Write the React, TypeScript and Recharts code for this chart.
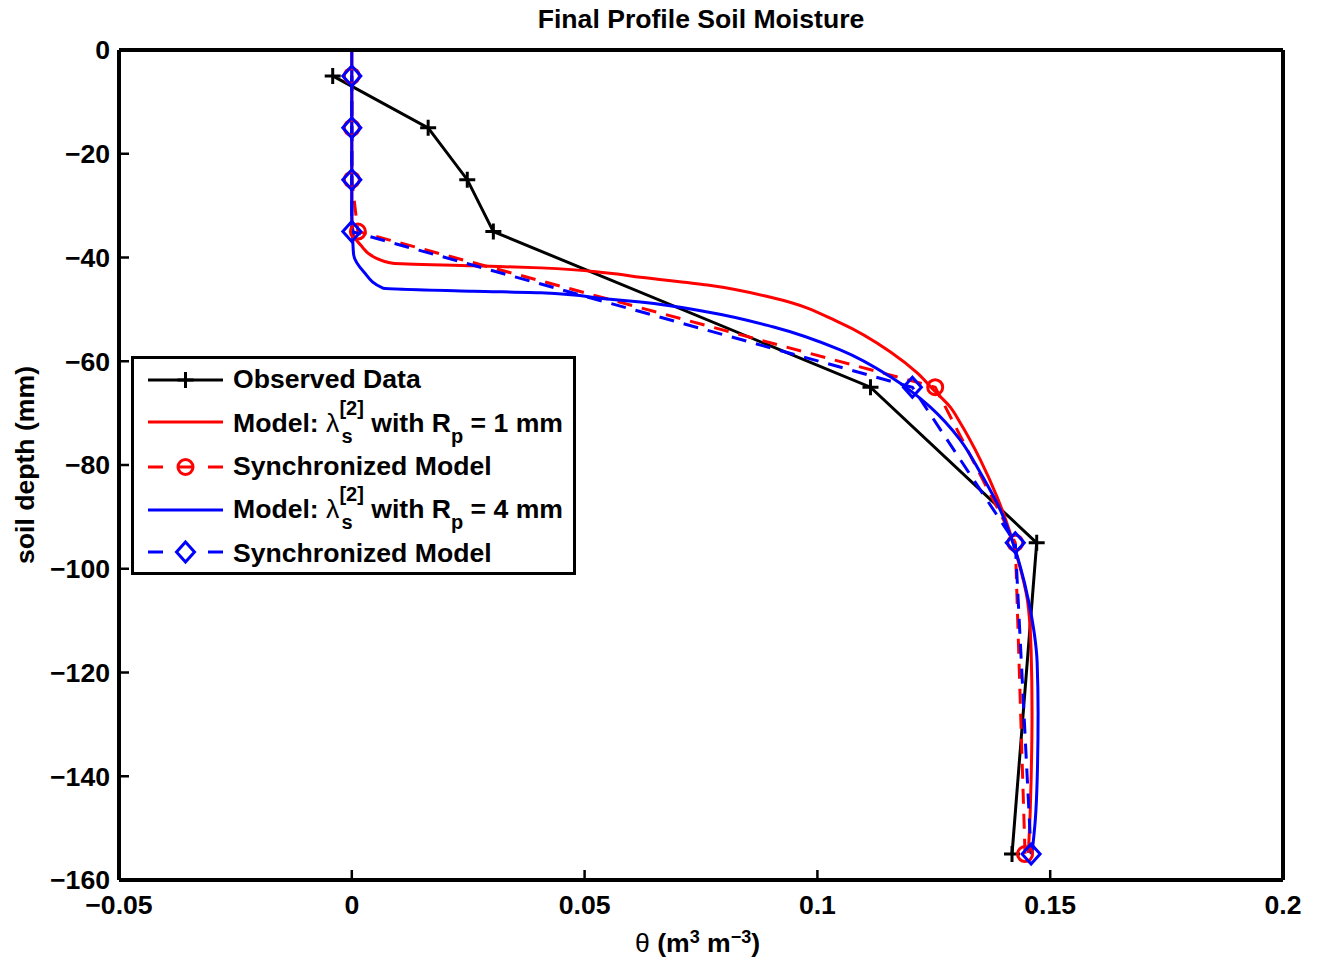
import React from "react";
import { ComposedChart, Line, XAxis, YAxis } from "recharts";

const FONT = '"Liberation Sans", Arial, Helvetica, sans-serif';
const FS = 26.6;

const xTicks = [-0.05, 0, 0.05, 0.1, 0.15, 0.2];
const yTicks = [-160, -140, -120, -100, -80, -60, -40, -20, 0];

// observed profile and the two synchronized runs share the sample depths
const obsDepth = [-5, -15, -25, -35, -65, -95, -155];
const obsTheta = [-0.0041, 0.0164, 0.0248, 0.0304, 0.1114, 0.1471, 0.1418];
const sync1Theta = [0, 0, 0, 0.0013, 0.1253, 0.1425, 0.1446];
const sync4Theta = [0, 0, 0, 0, 0.1204, 0.1425, 0.1459];

// model, R_p = 1 mm
const model1Depth = [
  0, -31.8, -35.7, -37.6, -40.1, -41.1, -41.6, -42.0, -43.0, -43.8, -45.3, -47.8,
  -52.6, -58.2, -62.3, -65.5, -68.8, -71.9, -79.0, -86.2, -93.1, -97.7, -106.0,
  -115.7, -127.8, -140.7, -147.1, -154.8,
];
const model1Theta = [
  0, 0, 0.0004, 0.0019, 0.0052, 0.0088, 0.0262, 0.0406, 0.0549, 0.062, 0.0764,
  0.0906, 0.1049, 0.1157, 0.1215, 0.1249, 0.1285, 0.1307, 0.135, 0.1386, 0.1414,
  0.1429, 0.1451, 0.1459, 0.1461, 0.1459, 0.1457, 0.1453,
];

// model, R_p = 4 mm
const model4Depth = [
  0, -32.8, -36.6, -39.5, -42.8, -45.9, -46.5, -46.8, -48.0, -48.6, -50.5, -53.4,
  -57.8, -63.0, -66.1, -68.8, -75.2, -81.5, -88.7, -94.5, -99.7, -106.0, -118.2,
  -127.8, -140.7, -148.4, -154.8,
];
const model4Theta = [
  0, 0, 0.0002, 0.0004, 0.0026, 0.0067, 0.0262, 0.0406, 0.0549, 0.062, 0.0764,
  0.0906, 0.1049, 0.1157, 0.1206, 0.1242, 0.1307, 0.135, 0.1393, 0.1418, 0.1436,
  0.1453, 0.1472, 0.1474, 0.1472, 0.1468, 0.1461,
];

const toPts = (theta: number[], depth: number[]) =>
  theta.map((x, i) => ({ x, y: depth[i] }));

const obs = toPts(obsTheta, obsDepth);
const sync1 = toPts(sync1Theta, obsDepth);
const sync4 = toPts(sync4Theta, obsDepth);
const model1 = toPts(model1Theta, model1Depth);
const model4 = toPts(model4Theta, model4Depth);

const RED = "#ff0000";
const BLUE = "#0000ff";

const minus = (v: number) => String(v).replace("-", "\u2212");

const plusDot = (p: any) => (
  <path
    key={`plus-${p.index}`}
    d={`M${p.cx - 8},${p.cy}H${p.cx + 8}M${p.cx},${p.cy - 8}V${p.cy + 8}`}
    stroke="#000"
    strokeWidth={3}
    fill="none"
  />
);

const circleDot = (p: any) => (
  <circle key={`circ-${p.index}`} cx={p.cx} cy={p.cy} r={7.5} stroke={RED} strokeWidth={3} fill="none" />
);

const diamondDot = (p: any) => (
  <path
    key={`dia-${p.index}`}
    d={`M${p.cx},${p.cy - 10}L${p.cx + 9},${p.cy}L${p.cx},${p.cy + 10}L${p.cx - 9},${p.cy}Z`}
    stroke={BLUE}
    strokeWidth={3}
    fill="none"
  />
);

const tickStyle = { fill: "#000", fontSize: FS, fontWeight: 700, fontFamily: FONT };
const frame = { stroke: "#000", strokeWidth: 4 };
const tickMark = { stroke: "#000", strokeWidth: 2.5 };

function Overlay() {
  const rowX = 102;
  const sup = (txt: string, rowBase: number) => (
    <text x={rowX} y={rowBase}>
      Model:
      <tspan fontWeight={400}> λ</tspan>
      <tspan fontSize={20} dy={-17}>[2]</tspan>
      <tspan fontSize={20} dx={-22.4} dy={28}>s</tspan>
      <tspan dx={11.3} dy={-11}> with R</tspan>
      <tspan fontSize={20} dy={11}>p</tspan>
      <tspan dy={-11}>{txt}</tspan>
    </text>
  );
  return (
    <svg
      width={1320}
      height={968}
      style={{ position: "absolute", left: 0, top: 0, pointerEvents: "none" }}
      fontFamily={FONT}
      fontWeight={700}
      fontSize={FS}
    >
      <text x={701} y={28} textAnchor="middle">
        Final Profile Soil Moisture
      </text>
      <text x={635} y={952}>
        <tspan fontWeight={400}>θ</tspan>
        <tspan> (m</tspan>
        <tspan fontSize={18} dy={-9}>3</tspan>
        <tspan dy={9}> m</tspan>
        <tspan fontSize={18} dy={-9}>{"\u22123"}</tspan>
        <tspan dy={9}>)</tspan>
      </text>
      <text x={34} y={465} textAnchor="middle" transform="rotate(-90 34 465)">
        soil depth (mm)
      </text>

      <g transform="translate(131,356)">
        <rect x={1.5} y={1.5} width={442} height={216} fill="#fff" stroke="#000" strokeWidth={3} />

        <line x1={17} x2={92} y1={24} y2={24} stroke="#000" strokeWidth={3} />
        {plusDot({ cx: 54.5, cy: 24, index: "lg" })}
        <text x={rowX} y={32}>Observed Data</text>

        <line x1={17} x2={92} y1={66} y2={66} stroke={RED} strokeWidth={3} />
        {sup(" = 1 mm", 76)}

        <path d="M17,111H32M47,111H62M77,111H92" stroke={RED} strokeWidth={3} />
        {circleDot({ cx: 54.5, cy: 111, index: "lg" })}
        <text x={rowX} y={119}>Synchronized Model</text>

        <line x1={17} x2={92} y1={154} y2={154} stroke={BLUE} strokeWidth={3} />
        {sup(" = 4 mm", 162)}

        <path d="M17,196H32M77,196H92" stroke={BLUE} strokeWidth={3} />
        {diamondDot({ cx: 54.5, cy: 196, index: "lg" })}
        <text x={rowX} y={206}>Synchronized Model</text>
      </g>
    </svg>
  );
}

export default function App() {
  return (
    <div
      style={{
        position: "absolute",
        left: 0,
        top: 0,
        width: 1320,
        height: 968,
        background: "#fff",
        fontFamily: FONT,
      }}
    >
      <ComposedChart width={1320} height={968} margin={{ top: 49, right: 36, left: 0, bottom: 0 }}>
        <XAxis
          xAxisId={0}
          dataKey="x"
          type="number"
          domain={[-0.05, 0.2]}
          allowDataOverflow
          ticks={xTicks}
          tickFormatter={minus}
          height={88}
          tickSize={-10}
          tickMargin={25}
          axisLine={frame}
          tickLine={tickMark}
          tick={tickStyle}
          interval={0}
        />
        <XAxis
          xAxisId="top"
          orientation="top"
          dataKey="x"
          type="number"
          domain={[-0.05, 0.2]}
          allowDataOverflow
          ticks={xTicks}
          height={1}
          tickSize={-10}
          axisLine={frame}
          tickLine={tickMark}
          tick={false}
          interval={0}
        />
        <YAxis
          yAxisId={0}
          type="number"
          domain={[-160, 0]}
          allowDataOverflow
          ticks={yTicks}
          tickFormatter={minus}
          width={119}
          tickSize={-10}
          tickMargin={19}
          axisLine={frame}
          tickLine={tickMark}
          tick={tickStyle}
          interval={0}
        />
        <YAxis
          yAxisId="right"
          orientation="right"
          type="number"
          domain={[-160, 0]}
          allowDataOverflow
          ticks={yTicks}
          width={1}
          tickSize={-10}
          axisLine={frame}
          tickLine={tickMark}
          tick={false}
          interval={0}
        />

        {/* invisible series so the mirrored top/right axes are drawn */}
        <Line
          xAxisId="top"
          yAxisId="right"
          data={obs}
          dataKey="y"
          stroke="none"
          dot={false}
          activeDot={false}
          isAnimationActive={false}
          legendType="none"
        />

        <Line
          data={obs}
          dataKey="y"
          type="linear"
          stroke="#000"
          strokeWidth={3}
          dot={plusDot}
          activeDot={false}
          isAnimationActive={false}
        />
        <Line
          data={model1}
          dataKey="y"
          type="monotoneY"
          stroke={RED}
          strokeWidth={3}
          dot={false}
          activeDot={false}
          isAnimationActive={false}
        />
        <Line
          data={sync1}
          dataKey="y"
          type="linear"
          stroke={RED}
          strokeWidth={3}
          strokeDasharray="15 10"
          dot={circleDot}
          activeDot={false}
          isAnimationActive={false}
        />
        <Line
          data={model4}
          dataKey="y"
          type="monotoneY"
          stroke={BLUE}
          strokeWidth={3}
          dot={false}
          activeDot={false}
          isAnimationActive={false}
        />
        <Line
          data={sync4}
          dataKey="y"
          type="linear"
          stroke={BLUE}
          strokeWidth={3}
          strokeDasharray="15 10"
          dot={diamondDot}
          activeDot={false}
          isAnimationActive={false}
        />
      </ComposedChart>
      <Overlay />
    </div>
  );
}
